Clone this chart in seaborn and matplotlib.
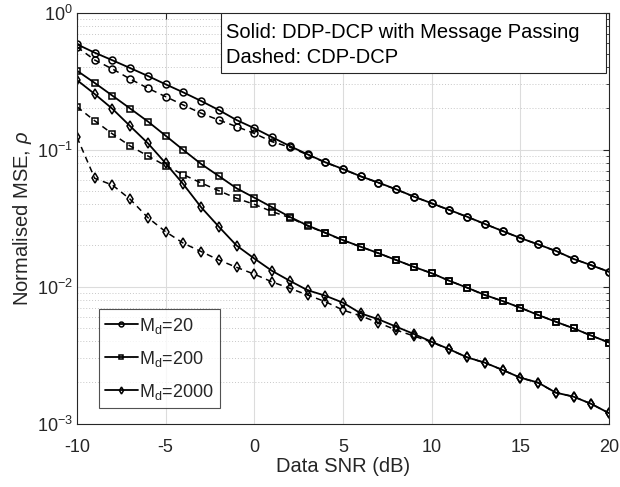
import matplotlib
matplotlib.use("Agg")
import matplotlib.pyplot as plt
import matplotlib.ticker as mticker
from matplotlib.lines import Line2D
from matplotlib.patches import Rectangle
import seaborn as sns
import numpy as np
import pandas as pd

snr_db = list(range(-10, 21))

m20_solid = [0.586, 0.509, 0.448, 0.393, 0.344, 0.299, 0.261, 0.226, 0.194, 0.164, 0.143,
             0.123, 0.106, 0.0922, 0.0807, 0.072, 0.0637, 0.0573, 0.0512, 0.0453, 0.0405,
             0.0362, 0.0323, 0.0286, 0.0254, 0.0226, 0.0203, 0.0182, 0.0159, 0.0143, 0.0128]
m20_dashed = [0.56, 0.45, 0.387, 0.327, 0.28, 0.243, 0.211, 0.184, 0.164, 0.147, 0.131,
              0.114, 0.104, 0.0915, 0.0805, 0.0718, 0.0636, 0.0572, 0.0511, 0.0452, 0.0404,
              0.0361, 0.0322, 0.0286, 0.0254, 0.0225, 0.0203, 0.0181, 0.0159, 0.0143, 0.0128]
m200_solid = [0.376, 0.306, 0.247, 0.199, 0.160, 0.126, 0.0991, 0.0784, 0.064, 0.0521, 0.0445,
              0.0379, 0.0322, 0.0279, 0.0247, 0.0218, 0.0195, 0.0175, 0.0156, 0.0139, 0.0125,
              0.011, 0.0098, 0.00867, 0.00783, 0.007, 0.0062, 0.00553, 0.00495, 0.00438, 0.0039]
m200_dashed = [0.205, 0.162, 0.13, 0.106, 0.0897, 0.0762, 0.0655, 0.057, 0.050, 0.044, 0.0398,
               0.0352, 0.0318, 0.0277, 0.0246, 0.0217, 0.0195, 0.0175, 0.0156, 0.0139, 0.0125,
               0.011, 0.0098, 0.00866, 0.00782, 0.007, 0.0062, 0.00553, 0.00495, 0.00438, 0.0039]
m2000_solid = [0.321, 0.254, 0.198, 0.148, 0.111, 0.0793, 0.0557, 0.0379, 0.0273, 0.0199, 0.016,
               0.013, 0.011, 0.0094, 0.00857, 0.00762, 0.00637, 0.00576, 0.00509, 0.0045, 0.00395,
               0.00348, 0.00304, 0.00278, 0.00246, 0.00216, 0.00199, 0.00168, 0.00157, 0.00139, 0.00119]
m2000_dashed = [0.123, 0.0616, 0.055, 0.0433, 0.0318, 0.0251, 0.0207, 0.018, 0.0156, 0.0138, 0.0123,
                0.0108, 0.0097, 0.00867, 0.00775, 0.00673, 0.0061, 0.00544, 0.00481, 0.00435, 0.00392,
                0.00347, 0.00304, 0.00277, 0.00246, 0.00216, 0.00198, 0.00168, 0.00157, 0.00139, 0.00119]

legend_labels = ["M$_\\mathregular{d}$=20", "M$_\\mathregular{d}$=200", "M$_\\mathregular{d}$=2000"]
markers = ["o", "s", "d"]
x_ticks = [-10, -5, 0, 5, 10, 15, 20]
note_text = "Solid: DDP-DCP with Message Passing\nDashed: CDP-DCP"

sns.set_style("white")
plt.rcParams["font.family"] = ["Liberation Sans", "DejaVu Sans"]
plt.rcParams["mathtext.fontset"] = "custom"
plt.rcParams["mathtext.rm"] = "Liberation Sans"
plt.rcParams["mathtext.it"] = "Liberation Sans:italic"

fig = plt.figure(figsize=(6.2, 4.87), dpi=100)
ax = fig.add_axes([77 / 620, 1 - 423.5 / 487, 532 / 620, 411 / 487])

series = [(m20_solid, m20_dashed), (m200_solid, m200_dashed), (m2000_solid, m2000_dashed)]
for (sol, das), mk in zip(series, markers):
    ms = 5 if mk != "d" else 5.5
    sns.lineplot(x=snr_db, y=sol, ax=ax, color="black", lw=1.3, marker=mk,
                 markersize=ms, markerfacecolor="none", markeredgecolor="black",
                 markeredgewidth=1.1, linestyle="-")
    sns.lineplot(x=snr_db, y=das, ax=ax, color="black", lw=1.1, marker=mk,
                 markersize=ms, markerfacecolor="none", markeredgecolor="black",
                 markeredgewidth=1.1, linestyle=(0, (4, 3)))

ax.set_yscale("log")
ax.set_xlim(-10, 20)
ax.set_ylim(1e-3, 1)
ax.set_xticks(x_ticks)
ax.set_xticklabels([str(v) for v in x_ticks])
ax.yaxis.set_major_locator(mticker.LogLocator(base=10, numticks=10))
ax.yaxis.set_minor_locator(mticker.LogLocator(base=10, subs=np.arange(2, 10), numticks=10))
ax.yaxis.set_minor_formatter(mticker.NullFormatter())

ax.grid(True, which="major", color="#dcdcdc", lw=0.8, linestyle="-")
ax.grid(True, which="minor", axis="y", color="#c8c8c8", lw=0.7, linestyle=(0, (1, 2)))
ax.set_axisbelow(True)

for s in ax.spines.values():
    s.set_color("#262626")
    s.set_linewidth(0.8)
ax.tick_params(which="both", direction="in", top=True, right=True, colors="#262626",
               labelsize=13)
ax.tick_params(which="major", length=4)
ax.tick_params(which="minor", length=2.5)
ax.tick_params(axis="x", pad=11)
ax.tick_params(axis="y", pad=3)

ax.set_xlabel("Data SNR (dB)", fontsize=14.5, color="#262626", labelpad=1)
ax.set_ylabel("Normalised MSE, $\\it{\\rho}$", fontsize=14.5, color="#262626", labelpad=2)

handles = [Line2D([], [], color="black", lw=1.3, marker=mk, markersize=3.5,
                  markerfacecolor="none", markeredgewidth=1.1) for mk in markers]
leg = ax.legend(handles, legend_labels, loc="lower left", bbox_to_anchor=(0.041, 0.038),
                borderaxespad=0, fontsize=13, frameon=True, fancybox=False, edgecolor="#262626",
                handlelength=1.8, handletextpad=0.1, borderpad=0.35, labelspacing=0.72)
leg.get_frame().set_linewidth(0.8)

ax.add_patch(Rectangle((0.2707, 0.8528), 0.7237, 0.1448, transform=ax.transAxes,
                       facecolor="white", edgecolor="#262626", lw=0.8, zorder=5))
ax.text(0.2800, 0.9745, note_text, transform=ax.transAxes, ha="left", va="top",
        fontsize=14.5, color="black", linespacing=1.4, zorder=6)

fig.savefig("out.png", dpi=100)
